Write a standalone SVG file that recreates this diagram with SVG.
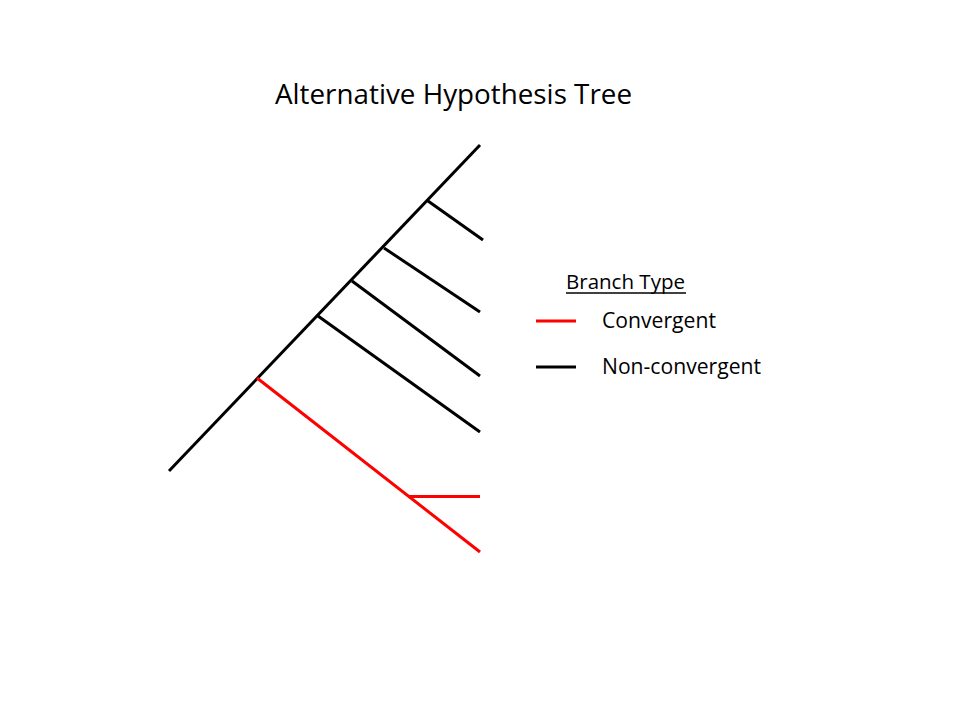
<svg xmlns="http://www.w3.org/2000/svg" width="960" height="720" viewBox="0 0 960 720">
<style>
.t{font-family:"Open Sans","Liberation Sans",sans-serif;fill:#000}
.k{stroke:#000;stroke-width:3;fill:none;stroke-linecap:butt}
.r{stroke:#ff0000;stroke-width:3;fill:none;stroke-linecap:butt}
</style>
<rect width="960" height="720" fill="#fff"/>
<g id="title"><text class="t" x="275" y="104" font-size="27" textLength="357" lengthAdjust="spacingAndGlyphs">Alternative Hypothesis Tree</text></g>
<g id="connectors">
<line class="k" x1="169" y1="471" x2="480" y2="145"/>
<line class="k" x1="428" y1="201" x2="483" y2="240"/>
<line class="k" x1="384" y1="248" x2="480" y2="312"/>
<line class="k" x1="352" y1="281" x2="480" y2="376"/>
<line class="k" x1="318" y1="316" x2="480" y2="432"/>
<line class="r" x1="257" y1="378" x2="480" y2="552"/>
<line class="r" x1="408" y1="496.5" x2="480" y2="496.5"/>
</g>
<g id="legend">
<text class="t" x="566" y="289" font-size="20.5" textLength="119" lengthAdjust="spacingAndGlyphs">Branch Type</text>
<line x1="566" y1="293" x2="686" y2="293" stroke="#000" stroke-width="1.4"/>
<line class="r" x1="536" y1="321" x2="576" y2="321"/>
<text class="t" x="602" y="328" font-size="21" textLength="114" lengthAdjust="spacingAndGlyphs">Convergent</text>
<line class="k" x1="536" y1="367" x2="576" y2="367"/>
<text class="t" x="602" y="374" font-size="21" textLength="159" lengthAdjust="spacingAndGlyphs">Non-convergent</text>
</g>
</svg>
